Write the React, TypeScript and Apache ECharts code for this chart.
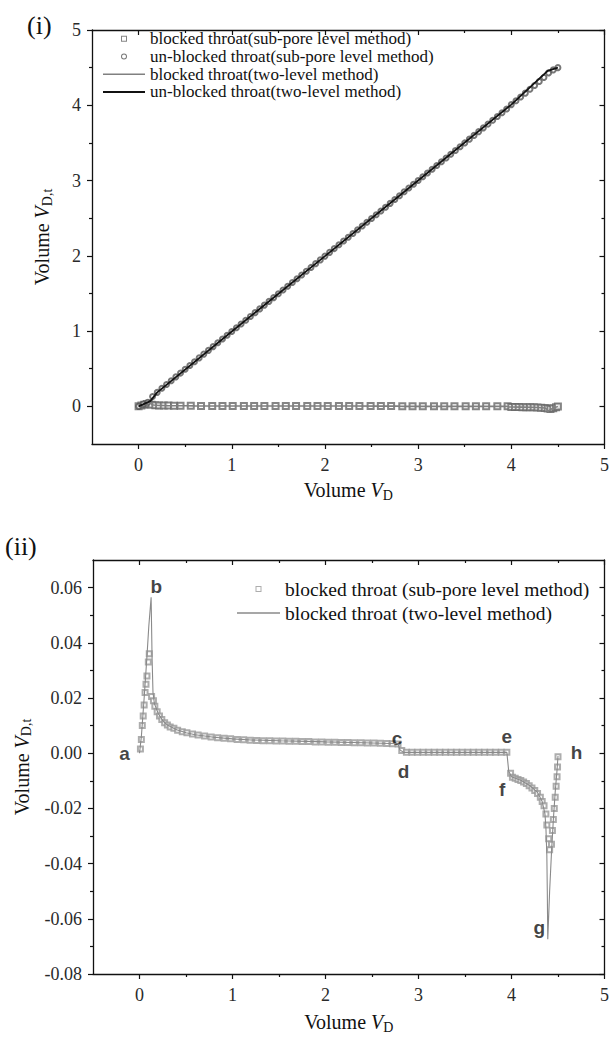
import React, { useEffect, useRef } from "react";
import * as echarts from "echarts";

const FONT = "Liberation Serif, Times New Roman, serif";
const SANS = "Liberation Sans, Arial, sans-serif";

// ---------- Panel (i) data ----------
const topXMajors = [0, 1, 2, 3, 4, 5];
const topXMinors = [0.5, 1.5, 2.5, 3.5, 4.5];
const topYMajors = [0, 1, 2, 3, 4, 5];
const topYMinors = [0.5, 1.5, 2.5, 3.5, 4.5];

const topBlockedSubPore: number[][] = [
  [0, 0], [0.03, 0.01], [0.06, 0.02], [0.09, 0.03], [0.11, 0.035], [0.14, 0.02], [0.18, 0.015],
  [0.22, 0.013], [0.27, 0.011], [0.32, 0.01], [0.38, 0.009], [0.45, 0.008], [0.56, 0.007],
  [0.67, 0.0064], [0.79, 0.0058], [0.9, 0.0054], [1.01, 0.0051], [1.13, 0.0049], [1.24, 0.0047],
  [1.35, 0.0045], [1.47, 0.0044], [1.58, 0.0043], [1.69, 0.0043], [1.81, 0.0042], [1.92, 0.0041],
  [2.03, 0.004], [2.15, 0.004], [2.26, 0.0039], [2.37, 0.0038], [2.49, 0.0037], [2.6, 0.0036],
  [2.71, 0.0035], [2.83, 0.0005], [2.94, 0.0003], [3.05, 0.0003], [3.17, 0.0003], [3.28, 0.0003],
  [3.39, 0.0003], [3.51, 0.0003], [3.62, 0.0003], [3.73, 0.0003], [3.85, 0.0003], [3.96, 0.0003],
  [4.0, -0.0085], [4.04, -0.0091], [4.08, -0.0097], [4.12, -0.0103], [4.16, -0.011], [4.2, -0.012],
  [4.24, -0.0132], [4.28, -0.0146], [4.32, -0.017], [4.36, -0.021], [4.39, -0.03], [4.42, -0.034],
  [4.45, -0.024], [4.48, -0.012], [4.5, -0.0013],
];

const topUnblockedSubPore: number[][] = [
  [0, 0], [0.05, 0.03], [0.1, 0.054], [0.15, 0.13], [0.2, 0.186], [0.25, 0.24], [0.3, 0.29],
  [0.35, 0.341], [0.4, 0.392], [0.45, 0.442], [0.5, 0.493], [0.55, 0.543], [0.6, 0.593],
  [0.65, 0.644], [0.7, 0.694], [0.75, 0.744], [0.8, 0.794], [0.85, 0.845], [0.9, 0.895],
  [0.95, 0.945], [1.0, 0.995], [1.05, 1.045], [1.1, 1.095], [1.15, 1.145], [1.2, 1.195],
  [1.25, 1.245], [1.3, 1.295], [1.35, 1.345], [1.4, 1.395], [1.45, 1.445], [1.5, 1.495],
  [1.55, 1.546], [1.6, 1.596], [1.65, 1.646], [1.7, 1.696], [1.75, 1.746], [1.8, 1.796],
  [1.85, 1.846], [1.9, 1.896], [1.95, 1.946], [2.0, 1.996], [2.05, 2.046], [2.1, 2.096],
  [2.15, 2.146], [2.2, 2.196], [2.25, 2.246], [2.3, 2.296], [2.35, 2.346], [2.4, 2.396],
  [2.45, 2.446], [2.5, 2.496], [2.55, 2.546], [2.6, 2.596], [2.65, 2.646], [2.7, 2.697],
  [2.75, 2.748], [2.8, 2.799], [2.85, 2.85], [2.9, 2.9], [2.95, 2.95], [3.0, 3.0], [3.05, 3.05],
  [3.1, 3.1], [3.15, 3.15], [3.2, 3.2], [3.25, 3.25], [3.3, 3.3], [3.35, 3.35], [3.4, 3.4],
  [3.45, 3.45], [3.5, 3.5], [3.55, 3.55], [3.6, 3.6], [3.65, 3.65], [3.7, 3.7], [3.75, 3.75],
  [3.8, 3.8], [3.85, 3.85], [3.9, 3.9], [3.95, 3.95], [4.0, 4.009], [4.05, 4.059], [4.1, 4.11],
  [4.15, 4.161], [4.2, 4.212], [4.25, 4.263], [4.3, 4.315], [4.35, 4.37], [4.4, 4.43],
  [4.45, 4.47], [4.5, 4.5],
];

const topUnblockedTwoLevel: number[][] = [
  [0, 0], [0.125, 0.07], [0.2, 0.186], [1.0, 0.995], [2.0, 1.996], [3.0, 3.0], [4.0, 4.009],
  [4.39, 4.457], [4.5, 4.5],
];

// ---------- Panel (ii) data ----------
const botXMajors = [0, 1, 2, 3, 4, 5];
const botXMinors = [0.5, 1.5, 2.5, 3.5, 4.5];
const botYMajors = [-0.08, -0.06, -0.04, -0.02, 0, 0.02, 0.04, 0.06];
const botYMinors = [-0.07, -0.05, -0.03, -0.01, 0.01, 0.03, 0.05];

const blockedTwoLevel: number[][] = [
  [0, 0], [0.02, 0.006], [0.05, 0.02], [0.08, 0.035], [0.1, 0.046], [0.125, 0.0565],
  [0.135, 0.035], [0.145, 0.022], [0.16, 0.018], [0.2, 0.0145], [0.25, 0.0118], [0.3, 0.0102],
  [0.4, 0.0085], [0.5, 0.0074], [0.6, 0.0067], [0.8, 0.0058], [1.0, 0.0052], [1.2, 0.0048],
  [1.5, 0.0045], [1.8, 0.0043], [2.0, 0.0041], [2.3, 0.0039], [2.6, 0.0036], [2.78, 0.0034],
  [2.8, 0.0012], [2.84, 0.0003], [3.0, 0.0003], [3.5, 0.0003], [3.95, 0.0003], [3.97, -0.0065],
  [4.0, -0.0085], [4.1, -0.0098], [4.2, -0.0118], [4.28, -0.0142], [4.33, -0.0175],
  [4.36, -0.022], [4.37, -0.027], [4.38, -0.037], [4.385, -0.05], [4.39, -0.0674],
  [4.41, -0.05], [4.43, -0.036], [4.45, -0.024], [4.47, -0.014], [4.49, -0.006], [4.5, -0.001],
];

const blockedSubPore: number[][] = [
  [0.01, 0.0015], [0.02, 0.005], [0.03, 0.01], [0.04, 0.0135], [0.05, 0.0175], [0.06, 0.022],
  [0.07, 0.025], [0.08, 0.028], [0.095, 0.033], [0.105, 0.036],
  [0.13, 0.0205], [0.15, 0.019], [0.165, 0.017], [0.19, 0.015], [0.215, 0.0135], [0.24, 0.0122],
  [0.27, 0.011], [0.3, 0.0102], [0.33, 0.0095], [0.37, 0.009], [0.41, 0.0083], [0.46, 0.0078],
  [0.51, 0.0074], [0.57, 0.007], [0.63, 0.0066], [0.7, 0.0062], [0.77, 0.0059], [0.84, 0.0056],
  [0.91, 0.0054], [0.98, 0.0052], [1.05, 0.005], [1.12, 0.0049], [1.19, 0.0047], [1.26, 0.0046],
  [1.33, 0.0045], [1.4, 0.0045], [1.47, 0.0044], [1.54, 0.0044], [1.61, 0.0043], [1.68, 0.0043],
  [1.75, 0.0042], [1.82, 0.0042], [1.89, 0.0041], [1.96, 0.0041], [2.03, 0.004], [2.1, 0.004],
  [2.17, 0.0039], [2.24, 0.0039], [2.31, 0.0038], [2.38, 0.0038], [2.45, 0.0037], [2.52, 0.0037],
  [2.59, 0.0036], [2.66, 0.0035], [2.72, 0.0034], [2.78, 0.0033], [2.82, 0.001], [2.87, 0.0003],
  [2.93, 0.0003], [2.99, 0.0003], [3.05, 0.0003], [3.11, 0.0003], [3.17, 0.0003], [3.23, 0.0003],
  [3.29, 0.0003], [3.35, 0.0003], [3.41, 0.0003], [3.47, 0.0003], [3.53, 0.0003], [3.59, 0.0003],
  [3.65, 0.0003], [3.71, 0.0003], [3.77, 0.0003], [3.83, 0.0003], [3.89, 0.0003], [3.95, 0.0003],
  [3.99, -0.0073], [4.01, -0.0087], [4.04, -0.0091], [4.07, -0.0095], [4.1, -0.0099],
  [4.13, -0.0104], [4.16, -0.011], [4.19, -0.0118], [4.22, -0.0126], [4.25, -0.0135],
  [4.28, -0.0146], [4.31, -0.016], [4.33, -0.0175], [4.35, -0.019], [4.37, -0.022], [4.38, -0.026],
  [4.4, -0.031], [4.41, -0.035], [4.43, -0.033], [4.44, -0.028], [4.45, -0.024], [4.46, -0.02],
  [4.47, -0.016], [4.48, -0.012], [4.49, -0.0085], [4.495, -0.005], [4.5, -0.0013],
];

const pointLabels = ["a", "b", "c", "d", "e", "f", "g", "h"];
const pointLabelPos: number[][] = [
  [-0.16, 0.0], [0.18, 0.0605], [2.77, 0.0055], [2.84, -0.0068], [3.95, 0.0059],
  [3.9, -0.013], [4.3, -0.0633], [4.7, 0.0001],
];

// ---------- names ----------
const TOP_NAMES = [
  "blocked throat(sub-pore level method)",
  "un-blocked throat(sub-pore level method)",
  "blocked throat(two-level method)",
  "un-blocked throat(two-level method)",
];
const BOT_NAMES = [
  "blocked throat (sub-pore level method)",
  "blocked throat (two-level method)",
];

const isMult = (v: number, step: number) => Math.abs(v / step - Math.round(v / step)) < 1e-6;

function makeAxes(
  dim: "x" | "y",
  gridIndex: number,
  min: number,
  max: number,
  interval: number,
  majors: number[],
  minors: number[],
  fmt: (v: number) => string,
  name: string,
  nameGap: number,
  labelMargin: number
) {
  const mainPos = dim === "x" ? "bottom" : "left";
  const mirrorPos = dim === "x" ? "top" : "right";
  const line = { color: "#111", width: 1.3 };
  const tickLine = { color: "#111", width: 1.2 };
  const base: any = {
    type: "value",
    gridIndex,
    min,
    max,
    interval,
    splitLine: { show: false },
  };
  return [
    {
      ...base,
      position: mainPos,
      axisLine: { show: true, onZero: false, lineStyle: line },
      axisTick: { show: true, inside: false, length: 5, customValues: majors, lineStyle: tickLine },
      axisLabel: {
        show: true,
        customValues: majors,
        formatter: fmt,
        margin: labelMargin,
        color: "#2a2a2a",
        fontFamily: FONT,
        fontSize: 18,
      },
      name,
      nameLocation: "middle",
      nameGap,
      nameTextStyle: {
        fontFamily: FONT,
        fontSize: 20,
        color: "#111",
        rich: {
          i: { fontFamily: FONT, fontSize: 20, fontStyle: "italic", color: "#111" },
          s: { fontFamily: FONT, fontSize: 14, color: "#111", padding: [10, 0, 0, 0] },
        },
      },
    },
    {
      ...base,
      position: mainPos,
      axisLine: { show: false, onZero: false },
      axisTick: { show: true, inside: false, length: 3, customValues: minors, lineStyle: tickLine },
      axisLabel: { show: false },
    },
    {
      ...base,
      position: mirrorPos,
      axisLine: { show: true, onZero: false, lineStyle: line },
      axisTick: { show: true, inside: true, length: 5, customValues: majors, lineStyle: tickLine },
      axisLabel: { show: false },
    },
    {
      ...base,
      position: mirrorPos,
      axisLine: { show: false, onZero: false },
      axisTick: { show: true, inside: true, length: 3, customValues: minors, lineStyle: tickLine },
      axisLabel: { show: false },
    },
  ];
}

const intFmt = (v: number) => (isMult(v, 1) ? String(Math.round(v)) : "");
const botYFmt = (v: number) => (isMult(v, 0.02) ? (Math.abs(v) < 1e-9 ? "0.00" : v.toFixed(2)) : "");

const LINE_ICON_THIN = "path://M0 0H42V1.4H0Z";
const LINE_ICON_THICK = "path://M0 0H42V2H0Z";
const SQUARE_ICON = "path://M0 0H6V6H0Z M1 1V5H5V1Z";
const CIRCLE_ICON = "path://M3 0A3 3 0 1 1 3 6A3 3 0 1 1 3 0Z M3 1A2 2 0 1 0 3 5A2 2 0 1 0 3 1Z";

export default function App() {
  const ref = useRef<HTMLDivElement>(null);
  useEffect(() => {
    document.body.style.margin = "0";
    const chart = echarts.init(ref.current!, null, { renderer: "svg" });
    const option: any = {
      animation: false,
      backgroundColor: "#fff",
      grid: [
        { left: 92, top: 30, width: 517, height: 414 },
        { left: 93, top: 560, width: 516, height: 414 },
      ],
      xAxis: [
        ...makeAxes("x", 0, -0.5, 5, 0.5, topXMajors, topXMinors, intFmt, "Volume {i|V}{s|D}", 34, 12),
        ...makeAxes("x", 1, -0.5, 5, 0.5, botXMajors, botXMinors, intFmt, "Volume {i|V}{s|D}", 36, 12),
      ],
      yAxis: [
        ...makeAxes("y", 0, -0.5, 5, 0.5, topYMajors, topYMinors, intFmt, "Volume {i|V}{s|D,t}", 38, 11),
        ...makeAxes("y", 1, -0.08, 0.07, 0.01, botYMajors, botYMinors, botYFmt, "Volume {i|V}{s|D,t}", 44, 11),
      ],
      legend: [
        {
          data: [
            { name: TOP_NAMES[0], icon: SQUARE_ICON },
            { name: TOP_NAMES[1], icon: CIRCLE_ICON },
            { name: TOP_NAMES[2], icon: LINE_ICON_THIN },
            { name: TOP_NAMES[3], icon: LINE_ICON_THICK },
          ],
          left: 103,
          top: 30,
          padding: 0,
          orient: "vertical",
          itemWidth: 42,
          itemHeight: 6,
          itemGap: 0,
          symbolKeepAspect: true,
          selectedMode: false,
          textStyle: { fontFamily: FONT, fontSize: 17, lineHeight: 17.7, color: "#111" },
        },
        {
          data: [
            { name: BOT_NAMES[0], icon: SQUARE_ICON },
            { name: BOT_NAMES[1], icon: LINE_ICON_THIN },
          ],
          left: 237,
          top: 577,
          padding: 0,
          orient: "vertical",
          itemWidth: 43,
          itemHeight: 6,
          itemGap: 0,
          symbolKeepAspect: true,
          selectedMode: false,
          textStyle: { fontFamily: FONT, fontSize: 19.5, lineHeight: 24, color: "#111" },
        },
      ],
      graphic: [
        { type: "text", left: 27, top: 12, style: { text: "(i)", font: `26px ${FONT}`, fill: "#111" } },
        { type: "text", left: 5, top: 533, style: { text: "(ii)", font: `26px ${FONT}`, fill: "#111" } },
      ],
      series: [
        {
          name: TOP_NAMES[0],
          type: "scatter",
          xAxisIndex: 0,
          yAxisIndex: 0,
          symbol: "emptyRect",
          symbolSize: 6,
          itemStyle: { color: "#666", borderWidth: 1 },
          data: topBlockedSubPore,
        },
        {
          name: TOP_NAMES[1],
          type: "scatter",
          xAxisIndex: 0,
          yAxisIndex: 0,
          symbol: "emptyCircle",
          symbolSize: 5,
          itemStyle: { color: "#555", borderWidth: 1 },
          data: topUnblockedSubPore,
        },
        {
          name: TOP_NAMES[2],
          type: "line",
          xAxisIndex: 0,
          yAxisIndex: 0,
          symbol: "none",
          lineStyle: { color: "#808080", width: 1.6 },
          itemStyle: { color: "#808080" },
          data: blockedTwoLevel,
        },
        {
          name: TOP_NAMES[3],
          type: "line",
          xAxisIndex: 0,
          yAxisIndex: 0,
          symbol: "none",
          lineStyle: { color: "#111", width: 1.8 },
          itemStyle: { color: "#111" },
          data: topUnblockedTwoLevel,
        },
        {
          name: BOT_NAMES[1],
          type: "line",
          xAxisIndex: 4,
          yAxisIndex: 4,
          symbol: "none",
          lineStyle: { color: "#8a8a8a", width: 1.1 },
          itemStyle: { color: "#8a8a8a" },
          data: blockedTwoLevel,
        },
        {
          name: BOT_NAMES[0],
          type: "scatter",
          xAxisIndex: 4,
          yAxisIndex: 4,
          symbol: "emptyRect",
          symbolSize: 5,
          itemStyle: { color: "#999", borderWidth: 1 },
          data: blockedSubPore,
        },
        {
          name: "point labels",
          type: "scatter",
          xAxisIndex: 4,
          yAxisIndex: 4,
          symbol: "circle",
          symbolSize: 1,
          itemStyle: { color: "rgba(0,0,0,0)" },
          label: {
            show: true,
            position: "inside",
            formatter: (p: any) => p.name,
            fontFamily: SANS,
            fontWeight: "bold",
            fontSize: 19,
            color: "#111",
          },
          data: pointLabels.map((n, i) => ({ name: n, value: pointLabelPos[i] })),
        },
      ],
    };
    chart.setOption(option);
    return () => chart.dispose();
  }, []);
  return <div ref={ref} style={{ width: 612, height: 1042 }} />;
}
